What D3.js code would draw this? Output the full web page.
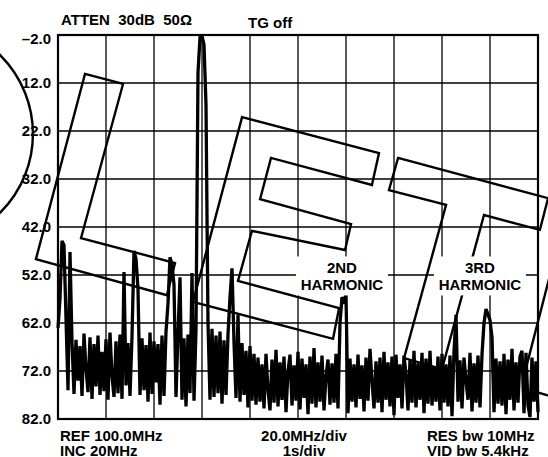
<!DOCTYPE html>
<html>
<head>
<meta charset="utf-8">
<script src="https://cdn.jsdelivr.net/npm/d3@7"></script>
<style>
  body { margin: 0; background: #fff; }
  text { font-family: "Liberation Sans", Arial, sans-serif; font-weight: bold; font-size: 15px; fill: #000; }
</style>
</head>
<body>
<div id="chart"></div>
<script>
// analyzer sweep: REF 100MHz, 20MHz/div, 10 divisions
const freqStart = 100, freqStop = 300;
const xGridFreqs = [100, 120, 140, 160, 180, 200, 220, 240, 260, 280, 300];
const yTickValues = [2, 12, 22, 32, 42, 52, 62, 72, 82];
const yTickLabels = ["\u20132.0", "12.0", "22.0", "32.0", "42.0", "52.0", "62.0", "72.0", "82.0"];

// trace level (dB below top), one sample every 0.833MHz
const traceDb = [
  63.0, 57.0, 44.9, 45.8, 61.0, 76.0, 47.2, 66.0, 76.8, 65.5,
  74.0, 66.8, 77.2, 64.2, 71.5, 76.4, 65.0, 77.8, 66.4, 75.2,
  64.6, 77.0, 68.0, 76.2, 65.4, 78.0, 64.0, 73.0, 77.4, 65.8,
  76.6, 64.4, 77.8, 51.4, 75.0, 66.2, 77.2, 64.8, 47.0, 48.6,
  55.0, 77.0, 65.2, 76.0, 66.6, 78.4, 64.0, 76.8, 65.8, 74.4,
  66.4, 79.0, 64.6, 77.2, 63.8, 58.0, 48.3, 49.8, 54.0, 77.4,
  64.2, 52.5, 78.0, 65.2, 79.4, 64.4, 76.6, 51.6, 78.2, 63.4,
  9.8, 2.5, 2.2, 4.0, 16.5, 62.0, 78.0, 63.2, 77.4, 64.6,
  76.6, 63.8, 78.8, 65.6, 77.0, 64.4, 56.6, 50.6, 66.0, 77.6,
  60.3, 78.4, 66.2, 77.0, 67.8, 79.6, 66.8, 78.2, 68.4, 79.0,
  69.2, 78.4, 70.6, 79.8, 68.4, 76.0, 80.2, 69.6, 78.6, 67.6,
  79.4, 70.2, 78.0, 69.0, 80.6, 72.0, 68.6, 79.2, 70.8, 78.2,
  68.0, 80.0, 69.4, 77.6, 70.6, 81.0, 69.0, 78.8, 67.2, 79.6,
  70.2, 78.4, 68.8, 80.2, 73.0, 69.6, 79.0, 70.4, 78.6, 68.4,
  79.8, 62.0, 56.6, 58.0, 56.0, 80.8, 69.4, 78.4, 70.6, 79.6,
  68.6, 77.8, 70.8, 80.4, 69.2, 78.2, 67.4, 74.0, 79.8, 70.0,
  78.6, 69.2, 80.6, 68.0, 78.0, 70.2, 79.4, 69.0, 81.2, 68.6,
  77.6, 70.6, 79.8, 68.8, 72.6, 80.2, 69.8, 78.6, 67.8, 79.6,
  70.4, 78.0, 68.2, 80.8, 69.4, 78.8, 67.8, 79.2, 71.0, 78.4,
  69.0, 80.2, 68.4, 78.6, 70.6, 79.4, 68.8, 81.4, 68.0, 60.3,
  78.4, 69.8, 79.8, 69.2, 74.0, 78.0, 68.2, 80.4, 70.4, 78.6,
  68.8, 79.6, 68.6, 62.0, 59.1, 60.2, 61.4, 65.0, 80.6, 69.4,
  78.8, 70.0, 79.2, 68.4, 81.0, 69.6, 78.0, 67.4, 80.2, 70.2,
  78.6, 69.0, 67.8, 80.8, 68.2, 79.2, 81.6, 69.2, 78.4, 70.0, 80.6
];

// "LET" outline drawn over the screen, in [MHz, dB]
const letterL = [[111.25, 10.1], [127.1, 12.2], [109.6, 44.3], [148.75, 49.5], [145.4, 56.2], [90.8, 48.7]];
const letterE = [[176.7, 19.1], [233.75, 26.6], [230.8, 33.25], [188.75, 27.6], [184.2, 36.2], [222.1, 41.4],
                 [219.6, 46.8], [180.8, 42.8], [175.0, 53.25], [217.1, 58.9], [214.6, 65.3], [156.25, 57.6]];
const letterT = [[241.7, 27.6], [304.2, 36.0], [300.8, 42.6], [277.5, 39.5], [260.0, 71.6], [244.2, 69.3],
                 [261.7, 37.4], [237.9, 34.3]];
const strayStrokes = [[[305, 52.0], [295, 71.4]], [[296.7, 76.0], [305, 77.2]]];
const ringCenter = [43.3, 22.6], ringRadiusMHz = 46.25;

const harmonicLabels = [
  { f: 218.3, db: 52.3, lines: ["2ND", "HARMONIC"] },
  { f: 275.8, db: 52.3, lines: ["3RD", "HARMONIC"] }
];

const W = 548, H = 457;
const svg = d3.select("#chart").append("svg").attr("width", W).attr("height", H);
svg.append("rect").attr("width", W).attr("height", H).attr("fill", "#fff");

const x = d3.scaleLinear().domain([freqStart, freqStop]).range([58, 538]);
const y = d3.scaleLinear().domain([2, 82]).range([35, 419]);

// grid
svg.append("g").selectAll("line").data(xGridFreqs).enter().append("line")
  .attr("x1", d => x(d)).attr("x2", d => x(d)).attr("y1", y(2)).attr("y2", y(82))
  .attr("stroke", "#000").attr("stroke-width", 1.3);
svg.append("g").selectAll("line").data(yTickValues).enter().append("line")
  .attr("x1", x(freqStart)).attr("x2", x(freqStop)).attr("y1", d => y(d)).attr("y2", d => y(d))
  .attr("stroke", "#000").attr("stroke-width", 1.3);
svg.append("rect").attr("x", x(freqStart)).attr("y", y(2))
  .attr("width", x(freqStop) - x(freqStart)).attr("height", y(82) - y(2))
  .attr("fill", "none").attr("stroke", "#000").attr("stroke-width", 2.2);

// y labels
svg.append("g").selectAll("text").data(yTickValues).enter().append("text")
  .attr("x", 51).attr("y", d => y(d)).attr("dy", (d, i) => i === 0 ? "0.62em" : "0.36em")
  .attr("text-anchor", "end")
  .text((d, i) => yTickLabels[i]);

// trace
const step = (freqStop - freqStart) / (traceDb.length - 1);
const line = d3.line().x((d, i) => x(freqStart + i * step)).y(d => y(d));
svg.append("path").datum(traceDb).attr("d", line)
  .attr("fill", "none").attr("stroke", "#000").attr("stroke-width", 3.3)
  .attr("stroke-linejoin", "miter").attr("stroke-miterlimit", 1.5);

// letters
const poly = d3.line().x(d => x(d[0])).y(d => y(d[1])).curve(d3.curveLinearClosed);
const seg = d3.line().x(d => x(d[0])).y(d => y(d[1]));
const ink = svg.append("g").attr("fill", "none").attr("stroke", "#000").attr("stroke-width", 2.4);
[letterL, letterE, letterT].forEach(p => ink.append("path").attr("d", poly(p)));
strayStrokes.forEach(s => ink.append("path").attr("d", seg(s)));
ink.append("circle").attr("cx", x(ringCenter[0])).attr("cy", y(ringCenter[1]))
  .attr("r", x(ringCenter[0] + ringRadiusMHz) - x(ringCenter[0]));

// harmonic callouts
harmonicLabels.forEach(l => {
  const cx = x(l.f), cy = y(l.db);
  svg.append("rect").attr("x", cx - 46).attr("y", cy - 20).attr("width", 92).attr("height", 39).attr("fill", "#fff");
  svg.append("text").attr("x", cx).attr("y", cy - 3).attr("text-anchor", "middle").text(l.lines[0]);
  svg.append("text").attr("x", cx).attr("y", cy + 14).attr("text-anchor", "middle").text(l.lines[1]);
});

// header / footer
svg.append("text").attr("x", 61).attr("y", 25).attr("xml:space", "preserve").style("white-space", "pre")
  .text("ATTEN  30dB  50\u03A9");
svg.append("text").attr("x", 248).attr("y", 28).text("TG off");
svg.append("text").attr("x", 60).attr("y", 441).text("REF 100.0MHz");
svg.append("text").attr("x", 60).attr("y", 456).text("INC 20MHz");
svg.append("text").attr("x", 304).attr("y", 441).attr("text-anchor", "middle").text("20.0MHz/div");
svg.append("text").attr("x", 304).attr("y", 456).attr("text-anchor", "middle").text("1s/div");
svg.append("text").attr("x", 427).attr("y", 441).text("RES bw 10MHz");
svg.append("text").attr("x", 427).attr("y", 456).text("VID bw 5.4kHz");
</script>
</body>
</html>
